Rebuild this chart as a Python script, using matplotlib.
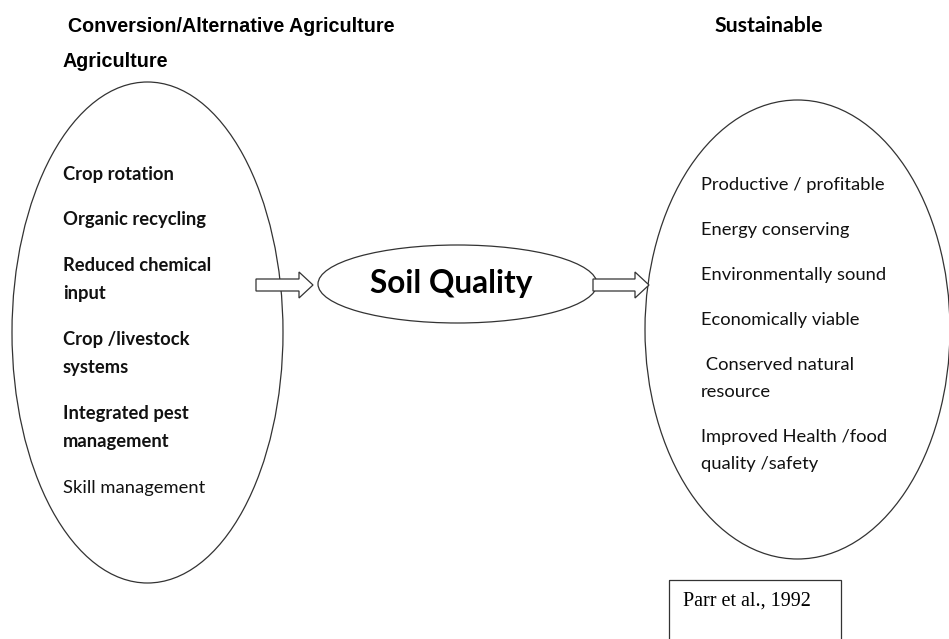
import matplotlib.pyplot as plt
from matplotlib.patches import Ellipse, FancyArrow, Rectangle

# Тексти схеми
left_title = ["Conversion/Alternative Agriculture", "Agriculture"]
right_title = "Sustainable"
centre_label = "Soil Quality"
source_label = "Parr et al., 1992"

left_items = [
    ["Crop rotation"],
    ["Organic recycling"],
    ["Reduced chemical", "input"],
    ["Crop /livestock", "systems"],
    ["Integrated pest", "management"],
    ["Skill management"],
]
left_bold = [True, True, True, True, True, False]

right_items = [
    ["Productive / profitable"],
    ["Energy conserving"],
    ["Environmentally sound"],
    ["Economically viable"],
    [" Conserved natural", "resource"],
    ["Improved Health /food", "quality /safety"],
]

W, H = 949, 639
fig = plt.figure(figsize=(W / 100, H / 100), dpi=100)
ax = fig.add_axes([0, 0, 1, 1])
ax.set_xlim(0, W)
ax.set_ylim(H, 0)
ax.axis('off')

line_col = '#333333'
body_font = ['Lato', 'DejaVu Sans']


def draw_list(items, x, y0, item_gap, line_gap, bold=None):
    y = y0
    for i, item in enumerate(items):
        w = 'bold' if (bold and bold[i]) else 'normal'
        for j, line in enumerate(item):
            ax.text(x, y, line, fontsize=13.2, family=body_font, fontweight=w,
                    color='#111111', va='baseline', ha='left')
            if j < len(item) - 1:
                y += line_gap
        y += item_gap


# Заголовки
ax.text(68, 32, left_title[0], fontsize=14.2, family='Liberation Sans',
        fontweight='bold', va='baseline')
ax.text(63, 67, left_title[1], fontsize=14.2, family='Liberation Sans',
        fontweight='bold', va='baseline')
ax.text(715, 32, right_title, fontsize=15.3, family=body_font,
        fontweight='bold', va='baseline')

# Еліпси
ax.add_patch(Ellipse((147.5, 332.5), 271, 501, fill=False, ec=line_col, lw=0.9))
ax.add_patch(Ellipse((797.5, 329.5), 305, 459, fill=False, ec=line_col, lw=0.9))
ax.add_patch(Ellipse((457.5, 284), 279, 78, fill=False, ec=line_col, lw=0.9))

# Стрілки
for x0, x1 in [(256, 313), (593, 649)]:
    ax.add_patch(FancyArrow(x0, 285, x1 - x0 - 14, 0, width=12, head_width=26,
                            head_length=14, length_includes_head=False,
                            fc='white', ec=line_col, lw=0.9, zorder=3))

ax.text(451, 293, centre_label, fontsize=22.8, family=body_font,
        fontweight='bold', ha='center', va='baseline')

draw_list(left_items, 63, 180, 45.5, 28.5, left_bold)
draw_list(right_items, 701, 190, 45, 27)

# Джерело
ax.add_patch(Rectangle((669, 580), 172, 70, fill=False, ec=line_col, lw=0.9))
ax.text(683, 606, source_label, fontsize=14.5, family='Liberation Serif',
        va='baseline')

fig.savefig('out.png', dpi=100)
